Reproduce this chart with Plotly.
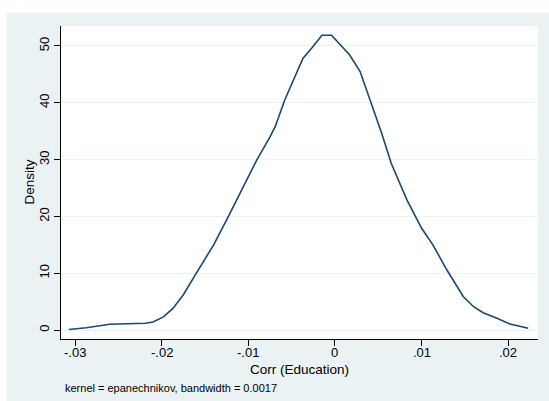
import plotly.graph_objects as go

# Kernel density estimate of the education correlation
corr_x = [-0.0307, -0.0287, -0.0260, -0.0240, -0.0219, -0.0210, -0.0198, -0.0187,
          -0.0175, -0.0160, -0.0140, -0.0123, -0.0108, -0.0096, -0.0090, -0.0075,
          -0.0069, -0.0058, -0.0037, -0.0027, -0.0015, -0.0004, 0.0006, 0.0017,
          0.0029, 0.0040, 0.0054, 0.0065, 0.0083, 0.0100, 0.0113, 0.0129,
          0.0148, 0.0160, 0.0171, 0.0187, 0.0202, 0.0223]
density = [0.1, 0.4, 1.0, 1.1, 1.2, 1.4, 2.3, 3.8,
           6.2, 10.0, 15.0, 20.0, 24.6, 28.2, 30.0, 34.0,
           35.8, 40.5, 47.8, 49.6, 51.9, 51.9, 50.2, 48.4,
           45.5, 40.8, 34.6, 29.3, 22.9, 17.9, 15.0, 10.6,
           5.9, 4.1, 3.05, 2.05, 1.05, 0.3]

x_ticks = [-0.03, -0.02, -0.01, 0, 0.01, 0.02]
x_tick_labels = ["-.03", "-.02", "-.01", "0", ".01", ".02"]
y_ticks = [0, 10, 20, 30, 40, 50]
y_tick_labels = ["0", "10", "20", "30", "40", "50"]

x_title = "Corr (Education)"
y_title = "Density"
note = "kernel = epanechnikov, bandwidth = 0.0017"

W, H = 549, 401
L, R, T, B = 61, 11, 26, 62
pw, ph = W - L - R, H - T - B

def px_x(p):
    return (p - L) / pw

def px_y(p):
    return (H - B - p) / ph

FONT = "Liberation Sans, Arial, sans-serif"
REGION = "#EAF2F3"
NAVY = "#1A476F"

fig = go.Figure()
fig.add_trace(go.Scatter(
    x=corr_x, y=density, mode="lines",
    line=dict(color=NAVY, width=1.6),
    hoverinfo="skip", showlegend=False,
))

# x tick labels sit close under the tick marks
x_label_notes = [
    dict(text=t, xref="x", yref="paper", x=v, y=px_y(352),
         xanchor="center", yanchor="middle", showarrow=False,
         borderpad=0, font=dict(size=13))
    for v, t in zip(x_ticks, x_tick_labels)
]

fig.update_layout(
    width=W, height=H,
    margin=dict(l=L, r=R, t=T, b=B, pad=0),
    paper_bgcolor=REGION,
    plot_bgcolor="white",
    font=dict(family=FONT, size=13, color="#000"),
    xaxis=dict(
        range=[-0.03162, 0.02343],
        tickvals=x_ticks, showticklabels=False,
        showgrid=False, zeroline=False,
        showline=True, linecolor="#000", linewidth=1,
        ticks="outside", ticklen=6, tickcolor="#000", tickwidth=1,
    ),
    yaxis=dict(
        range=[-1.585, 53.52],
        tickvals=y_ticks, ticktext=y_tick_labels,
        tickangle=-90,
        showgrid=True, gridcolor=REGION, gridwidth=1,
        zeroline=False,
        showline=True, linecolor="#000", linewidth=1,
        ticks="outside", ticklen=6, tickcolor="#000", tickwidth=1,
        tickfont=dict(size=13),
    ),
    shapes=[
        # white band along the top and left of the page
        dict(type="rect", xref="paper", yref="paper",
             x0=px_x(0), x1=px_x(W), y0=px_y(12.6), y1=px_y(0),
             fillcolor="white", line=dict(width=0), layer="above"),
        dict(type="rect", xref="paper", yref="paper",
             x0=px_x(0), x1=px_x(7), y0=px_y(H), y1=px_y(0),
             fillcolor="white", line=dict(width=0), layer="above"),
    ],
    annotations=x_label_notes + [
        dict(text=x_title, xref="paper", yref="paper",
             x=0.5, y=px_y(369.5), xanchor="center", yanchor="middle",
             borderpad=0, showarrow=False, font=dict(size=13.5)),
        dict(text=y_title, xref="paper", yref="paper",
             x=px_x(29), y=0.5, xanchor="center", yanchor="middle",
             textangle=-90, showarrow=False, font=dict(size=13.5)),
        dict(text=note, xref="paper", yref="paper",
             x=px_x(63), y=px_y(388), xanchor="left", yanchor="middle",
             showarrow=False, font=dict(size=11)),
    ],
)

fig.write_html("out.html")
